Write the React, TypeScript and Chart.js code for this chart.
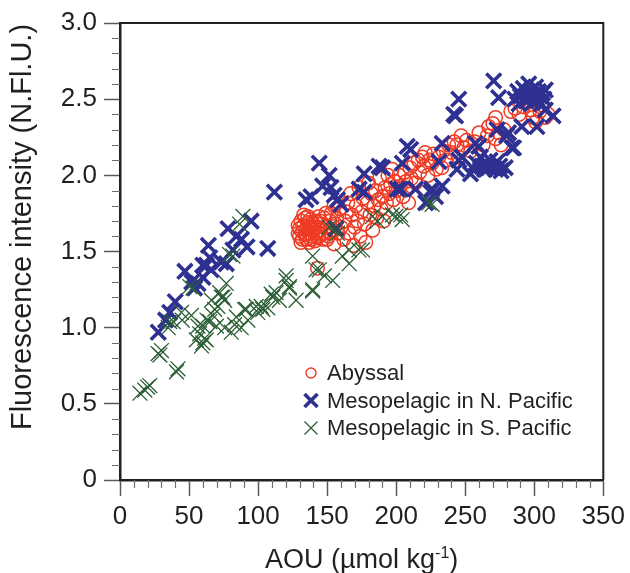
import React, { useEffect, useRef } from 'react';
import { Chart, registerables } from 'chart.js';

Chart.register(...registerables);

// ---- Data: [AOU (µmol kg-1), Fluorescence intensity (N.Fl.U.)] ----
const abyssal: [number, number][] = [
  [130, 1.60], [130, 1.65], [131, 1.70], [132, 1.58], [132, 1.63], [133, 1.67], [134, 1.61], [134, 1.72],
  [135, 1.58], [135, 1.65], [136, 1.69], [137, 1.62], [137, 1.56], [138, 1.66], [138, 1.71], [139, 1.60],
  [140, 1.64], [140, 1.68], [141, 1.57], [142, 1.62], [142, 1.70], [143, 1.66], [144, 1.60], [144, 1.73],
  [145, 1.64], [146, 1.68], [147, 1.58], [148, 1.62], [148, 1.72], [150, 1.66], [151, 1.60], [152, 1.70],
  [153, 1.75], [154, 1.64], [155, 1.55], [156, 1.68], [157, 1.72], [158, 1.62], [159, 1.78], [160, 1.66],
  [129, 1.62], [129, 1.67], [131, 1.56], [133, 1.74], [135, 1.61], [136, 1.73], [138, 1.58], [139, 1.69],
  [141, 1.66], [143, 1.59], [145, 1.70], [146, 1.61], [149, 1.75], [150, 1.58], [153, 1.62], [155, 1.80],
  [143, 1.39],
  [162, 1.58], [163, 1.70], [164, 1.76], [165, 1.82], [166, 1.62], [167, 1.88], [168, 1.74], [169, 1.54],
  [170, 1.66], [171, 1.80], [172, 1.70], [173, 1.92], [174, 1.60], [175, 1.76], [176, 1.85], [177, 1.68],
  [178, 1.56], [179, 1.82], [180, 1.95], [181, 1.74], [182, 1.88], [183, 1.64], [184, 1.80], [185, 1.90],
  [186, 1.72], [187, 1.84], [188, 1.98], [189, 1.78], [190, 1.86], [191, 1.70], [192, 1.92], [193, 1.82],
  [194, 2.00], [195, 1.88], [196, 1.94], [197, 2.04], [198, 1.84], [199, 1.96], [200, 1.90],
  [202, 2.00], [203, 1.93], [205, 1.86], [206, 2.02], [207, 1.96], [209, 1.82], [210, 2.05], [211, 1.98],
  [213, 2.08], [214, 1.95], [216, 2.10], [217, 2.02], [219, 2.12], [220, 2.06], [221, 2.15], [223, 2.00],
  [224, 2.10], [226, 2.08], [227, 2.14], [229, 2.04], [231, 2.12], [233, 2.05], [234, 2.16], [236, 2.10],
  [238, 2.20], [240, 2.15], [242, 2.22], [244, 2.20], [245, 2.12], [247, 2.26], [249, 2.18], [251, 2.23],
  [254, 2.16], [257, 2.22], [260, 2.28], [263, 2.20], [266, 2.26], [267, 2.32], [270, 2.34], [272, 2.24],
  [272, 2.38], [274, 2.28], [276, 2.20], [278, 2.30], [283, 2.42], [286, 2.44], [289, 2.40], [292, 2.45],
  [295, 2.48], [297, 2.43], [299, 2.38], [301, 2.35], [304, 2.42], [306, 2.46], [308, 2.38], [310, 2.40],
];

const mesoNorth: [number, number][] = [
  [27.7, 0.97], [33, 1.05], [36, 1.10], [40, 1.17], [47, 1.37], [52, 1.30], [54, 1.26], [56.5, 1.29],
  [60, 1.33], [60, 1.41], [62.5, 1.41], [64, 1.54], [65, 1.46], [66, 1.38], [73.4, 1.43], [77, 1.42],
  [78.2, 1.65], [81.8, 1.51], [84.2, 1.60], [88, 1.58], [92, 1.53], [95, 1.70], [107, 1.52],
  [111.8, 1.89], [134.7, 1.84], [138.3, 1.86], [144.3, 2.08], [146.7, 1.93], [151.5, 2.00], [152.8, 1.92],
  [155.1, 1.87], [156.4, 1.65], [157.5, 1.84], [160, 1.81], [173.2, 1.91], [176.8, 2.01], [176.8, 1.89],
  [187.6, 2.06], [190, 2.05], [200.8, 1.91], [203.3, 1.91], [204.4, 2.08], [208, 2.19], [210.5, 2.17],
  [214, 1.91], [221.3, 1.82], [225, 1.89], [225.9, 1.91], [228.5, 1.86], [231, 2.09], [233.3, 2.21],
  [233.3, 1.93], [244, 2.04], [245.3, 2.10], [247.7, 2.12], [253.8, 2.01], [256.2, 2.04], [257.4, 2.21],
  [259.8, 2.19], [258, 2.08], [261, 2.12], [262, 2.06], [264, 2.04], [265, 2.07], [267, 2.05], [268, 2.10],
  [270, 2.06], [272, 2.04], [273, 2.09], [275, 2.06], [276, 2.03], [279, 2.05],
  [241.7, 2.40], [243, 2.39], [245.3, 2.50], [270.6, 2.62], [274.2, 2.51], [273, 2.30], [280, 2.26],
  [281.4, 2.28], [283.8, 2.18], [285, 2.18], [291, 2.32], [301.9, 2.32], [308, 2.43], [313.6, 2.39],
  [286, 2.50], [288, 2.55], [290, 2.52], [292, 2.57], [294, 2.49], [295, 2.54], [297, 2.51], [298, 2.56],
  [299, 2.48], [300, 2.53], [301, 2.58], [302, 2.50], [303, 2.55], [304, 2.52], [305, 2.47], [306, 2.54],
  [307, 2.50], [308, 2.56], [296, 2.60], [289, 2.47],
];

const mesoSouth: [number, number][] = [
  [14.4, 0.57], [18, 0.59], [20, 0.61], [21.6, 0.62], [27.6, 0.83], [28.9, 0.82], [30, 0.85], [40.9, 0.71],
  [42, 0.73], [34.9, 1.00], [36, 1.04], [38.5, 1.04], [44.5, 1.10], [45, 1.05], [50.5, 1.27], [52.9, 1.26],
  [51.7, 1.08], [55.3, 0.92], [56.5, 1.01], [57.7, 0.96], [59, 0.88], [60, 1.01], [60, 0.90], [61.3, 0.93],
  [62.5, 0.92], [63, 1.05], [65, 1.04], [66.2, 1.18], [67.3, 1.08], [68.6, 1.12], [69.8, 1.01], [70.9, 1.14],
  [72.2, 1.23], [73.4, 1.20], [74.5, 1.20], [75.8, 1.18], [75.8, 1.00], [77, 1.29], [79.4, 1.48], [80.6, 0.97],
  [81.8, 1.47], [83, 1.02], [84.2, 1.07], [86.6, 1.68], [87.8, 1.00], [89, 1.73], [90.2, 1.12], [91.4, 1.12],
  [92.6, 1.05], [98.6, 1.14], [99.8, 1.10], [102.2, 1.14], [103.4, 1.12], [107, 1.13], [109.5, 1.22],
  [110.6, 1.20], [113, 1.23], [115.4, 1.18], [120.3, 1.31], [120.3, 1.34], [122.7, 1.26], [122.7, 1.27],
  [127.5, 1.18], [139.5, 1.25], [139.5, 1.24], [139.5, 1.47], [142, 1.38], [144.3, 1.38], [148, 1.34],
  [151.5, 1.66], [154, 1.31], [156.4, 1.65], [157.5, 1.62], [161, 1.47], [166, 1.42], [166, 1.51],
  [173, 1.51], [175.6, 1.51], [182.8, 1.73], [186.4, 1.70], [190, 1.73], [197.2, 1.74], [199.7, 1.73],
  [203.3, 1.74], [204.4, 1.71], [223.7, 1.82], [226, 1.81],
];

const seriesNames = ['Abyssal', 'Mesopelagic in N. Pacific', 'Mesopelagic in S. Pacific'];
const seriesColors = ['#ef3b24', '#2e3192', '#2a5e34'];

const xMin = 0, xMax = 350, xMajorStep = 50, xMinorStep = 10;
const yMin = 0, yMax = 3, yMajorStep = 0.5, yMinorStep = 0.1;
const yTickLabels = ['0', '0.5', '1.0', '1.5', '2.0', '2.5', '3.0'];
const xTitleMain = 'AOU (µmol kg';
const xTitleSup = '-1';
const xTitleEnd = ')';
const yTitle = 'Fluorescence intensity (N.Fl.U.)';

const FONT = '"Liberation Sans", Arial, Helvetica, sans-serif';
const TEXT = '#231f20';

function drawMarker(ctx: CanvasRenderingContext2D, kind: string, x: number, y: number, r: number, color: string, lw: number) {
  ctx.save();
  ctx.strokeStyle = color;
  ctx.lineWidth = lw;
  ctx.beginPath();
  if (kind === 'circle') {
    ctx.arc(x, y, r, 0, Math.PI * 2);
  } else {
    ctx.moveTo(x - r, y - r); ctx.lineTo(x + r, y + r);
    ctx.moveTo(x - r, y + r); ctx.lineTo(x + r, y - r);
  }
  ctx.stroke();
  ctx.restore();
}

const decorPlugin = {
  id: 'decor',
  afterDraw(chart: any) {
    const { ctx, chartArea: ca, scales } = chart;
    const xs = scales.x, ys = scales.y;
    ctx.save();
    // top & right frame
    ctx.strokeStyle = TEXT;
    ctx.lineWidth = 2;
    ctx.beginPath();
    ctx.moveTo(ca.left, ca.top);
    ctx.lineTo(ca.right, ca.top);
    ctx.lineTo(ca.right, ca.bottom);
    ctx.stroke();

    // minor ticks
    ctx.strokeStyle = '#6d6e71';
    ctx.lineWidth = 1.2;
    ctx.beginPath();
    const nx = Math.round((xMax - xMin) / xMinorStep);
    const per = Math.round(xMajorStep / xMinorStep);
    for (let i = 0; i <= nx; i++) {
      if (i % per === 0) continue;
      const px = Math.round(xs.getPixelForValue(xMin + i * xMinorStep)) + 0.5;
      ctx.moveTo(px, ca.bottom);
      ctx.lineTo(px, ca.bottom + 8);
    }
    const ny = Math.round((yMax - yMin) / yMinorStep);
    const pery = Math.round(yMajorStep / yMinorStep);
    for (let i = 0; i <= ny; i++) {
      if (i % pery === 0) continue;
      const py = Math.round(ys.getPixelForValue(yMin + i * yMinorStep)) + 0.5;
      ctx.moveTo(ca.left - 8, py);
      ctx.lineTo(ca.left, py);
    }
    ctx.stroke();

    // x title with superscript
    ctx.fillStyle = TEXT;
    ctx.textBaseline = 'alphabetic';
    ctx.textAlign = 'left';
    const mainFont = `27px ${FONT}`;
    const supFont = `16px ${FONT}`;
    ctx.font = mainFont;
    const w1 = ctx.measureText(xTitleMain).width;
    const w3 = ctx.measureText(xTitleEnd).width;
    ctx.font = supFont;
    const w2 = ctx.measureText(xTitleSup).width;
    const total = w1 + w2 + w3;
    const cx = (ca.left + ca.right) / 2;
    let tx = cx - total / 2;
    const base = 568;
    ctx.font = mainFont;
    ctx.fillText(xTitleMain, tx, base);
    tx += w1;
    ctx.font = supFont;
    ctx.fillText(xTitleSup, tx, base - 10);
    tx += w2;
    ctx.font = mainFont;
    ctx.fillText(xTitleEnd, tx, base);

    // y title
    ctx.save();
    ctx.translate(23, 227);
    ctx.rotate(-Math.PI / 2);
    ctx.textAlign = 'center';
    ctx.textBaseline = 'middle';
    ctx.font = `29px ${FONT}`;
    ctx.fillText(yTitle, 0, 0);
    ctx.restore();

    // legend
    const legendX = 311;
    const legendY0 = 373;
    const legendGap = 27.5;
    ctx.font = `22px ${FONT}`;
    ctx.textAlign = 'left';
    ctx.textBaseline = 'middle';
    chart.data.datasets.forEach((ds: any, i: number) => {
      const y = legendY0 + i * legendGap;
      if (ds.pointStyle === 'circle') {
        drawMarker(ctx, 'circle', legendX, y, 5, ds.borderColor, 1.4);
      } else {
        drawMarker(ctx, 'cross', legendX, y, 6.5, ds.borderColor, ds.borderWidth);
      }
      ctx.fillStyle = TEXT;
      ctx.fillText(ds.label, legendX + 16, y + 1);
    });
    ctx.restore();
  },
};

export default function App() {
  const canvasRef = useRef<HTMLCanvasElement | null>(null);

  useEffect(() => {
    const canvas = canvasRef.current;
    if (!canvas) return;
    const toPts = (arr: [number, number][]) => arr.map(([x, y]) => ({ x, y }));
    const chart = new Chart(canvas, {
      type: 'scatter',
      data: {
        datasets: [
          {
            label: seriesNames[0],
            data: toPts(abyssal),
            pointStyle: 'circle',
            pointRadius: 6.8,
            backgroundColor: 'rgba(0,0,0,0)',
            borderColor: seriesColors[0],
            borderWidth: 1.5,
            order: 3,
          },
          {
            label: seriesNames[1],
            data: toPts(mesoNorth),
            pointStyle: 'crossRot',
            pointRadius: 10.5,
            backgroundColor: seriesColors[1],
            borderColor: seriesColors[1],
            borderWidth: 3.6,
            order: 2,
          },
          {
            label: seriesNames[2],
            data: toPts(mesoSouth),
            pointStyle: 'crossRot',
            pointRadius: 10.5,
            backgroundColor: seriesColors[2],
            borderColor: seriesColors[2],
            borderWidth: 1.3,
            order: 1,
          },
        ],
      },
      options: {
        animation: false,
        responsive: false,
        devicePixelRatio: 1,
        layout: { padding: { top: 23, right: 25, left: 0, bottom: 0 } },
        plugins: {
          legend: { display: false },
          tooltip: { enabled: false },
        },
        scales: {
          x: {
            type: 'linear',
            min: xMin,
            max: xMax,
            afterFit: (s: any) => { s.height = 93; },
            ticks: {
              stepSize: xMajorStep,
              color: TEXT,
              padding: 5,
              font: { size: 26, family: FONT },
              maxRotation: 0,
              callback: (v: any) => String(v),
            },
            grid: {
              drawOnChartArea: false,
              drawTicks: true,
              tickLength: 16,
              tickColor: '#58595b',
              tickWidth: 1.5,
            },
            border: { display: true, color: TEXT, width: 2.5 },
          },
          y: {
            type: 'linear',
            min: yMin,
            max: yMax,
            afterFit: (s: any) => { s.width = 120; },
            ticks: {
              stepSize: yMajorStep,
              color: TEXT,
              padding: 7,
              font: { size: 26, family: FONT },
              callback: (v: any) => yTickLabels[Math.round((Number(v) - yMin) / yMajorStep)] ?? '',
            },
            grid: {
              drawOnChartArea: false,
              drawTicks: true,
              tickLength: 16,
              tickColor: '#58595b',
              tickWidth: 1.5,
            },
            border: { display: true, color: TEXT, width: 2.5 },
          },
        },
      },
      plugins: [decorPlugin],
    } as any);
    return () => chart.destroy();
  }, []);

  return (
    <div style={{ position: 'fixed', left: 0, top: 0, width: 630, height: 573, background: '#fff' }}>
      <canvas ref={canvasRef} width={630} height={573} />
    </div>
  );
}
